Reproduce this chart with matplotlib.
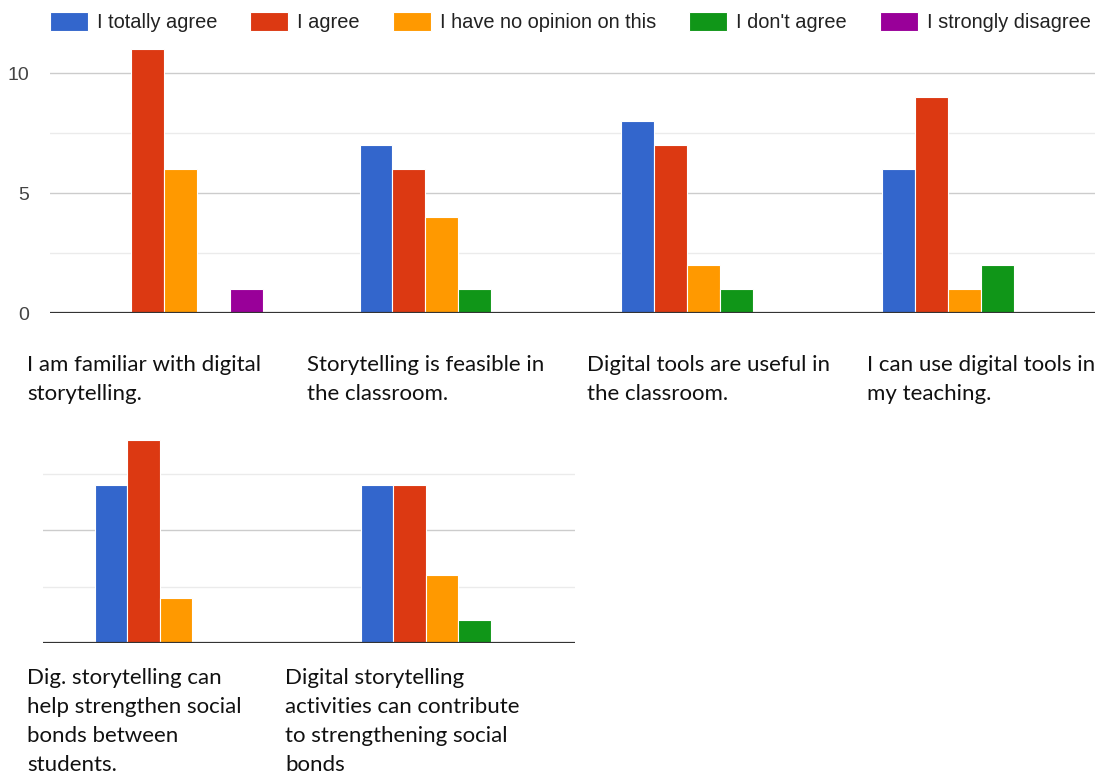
import matplotlib.pyplot as plt
import numpy as np

W, H = 1095, 776
DPI = 100

SERIES = ["I totally agree", "I agree", "I have no opinion on this",
          "I don't agree", "I strongly disagree"]
COLORS = ["#3366cc", "#dc3912", "#ff9900", "#109618", "#990099"]

TOP_LABELS = [
    "I am familiar with digital\nstorytelling.",
    "Storytelling is feasible in\nthe classroom.",
    "Digital tools are useful in\nthe classroom.",
    "I can use digital tools in\nmy teaching.",
]
# counts per statement, one row per answer option
TOP_TOTALLY = [0, 7, 8, 6]
TOP_AGREE = [11, 6, 7, 9]
TOP_NO_OPINION = [6, 4, 2, 1]
TOP_DISAGREE = [0, 1, 1, 2]
TOP_STRONGLY = [1, 0, 0, 0]

BOTTOM_LABELS = [
    "Dig. storytelling can\nhelp strengthen social\nbonds between\nstudents.",
    "Digital storytelling\nactivities can contribute\nto strengthening social\nbonds",
]
BOTTOM_TOTALLY = [7, 7]
BOTTOM_AGREE = [9, 7]
BOTTOM_NO_OPINION = [2, 3]
BOTTOM_DISAGREE = [0, 1]
BOTTOM_STRONGLY = [0, 0]

LABEL_FONT = ["Lato", "DejaVu Sans"]
AXIS_FONT = ["Liberation Sans", "DejaVu Sans"]


def px_rect(left, bottom, right, top):
    """Axes rect in figure fractions from pixel edges (y measured from top)."""
    return [left / W, 1 - bottom / H, (right - left) / W, (bottom - top) / H]


def draw_group_bars(ax, rows, bar_w):
    x = np.arange(len(rows[0]))
    handles = []
    for i, (vals, color) in enumerate(zip(rows, COLORS)):
        offs = (i - 2) * bar_w
        bars = ax.bar(x + offs, vals, bar_w, color=color, edgecolor="white",
                      linewidth=0.8, zorder=3)
        handles.append(bars)
    ax.set_xlim(-0.5, len(x) - 0.5)
    return handles


def style_axis(ax, ymax, show_labels):
    ax.set_ylim(0, ymax)
    for y in np.arange(2.5, ymax, 2.5):
        major = abs(y % 5) < 1e-9
        ax.axhline(y, color="#cccccc" if major else "#ebebeb",
                   linewidth=1.0, zorder=1)
    ax.axhline(0, color="#333333", linewidth=1.6, zorder=4)
    for s in ax.spines.values():
        s.set_visible(False)
    ax.set_xticks([])
    if show_labels:
        ax.set_yticks([0, 5, 10])
        ax.tick_params(axis="y", length=0, pad=15, labelsize=14,
                       labelcolor="#444444")
        for t in ax.get_yticklabels():
            t.set_family(AXIS_FONT)
    else:
        ax.set_yticks([])


def put_label(fig, text, x_px, base_px, step=29):
    for k, line in enumerate(text.split("\n")):
        fig.text(x_px / W, 1 - (base_px + k * step) / H, line,
                 family=LABEL_FONT, fontsize=16, color="#111111",
                 ha="left", va="baseline")


def main() -> None:
    fig = plt.figure(figsize=(W / DPI, H / DPI), dpi=DPI)

    ax_top = fig.add_axes(px_rect(50, 313, 1095, 42))
    handles = draw_group_bars(
        ax_top, [TOP_TOTALLY, TOP_AGREE, TOP_NO_OPINION, TOP_DISAGREE,
                 TOP_STRONGLY], 0.126)
    style_axis(ax_top, 11.3, True)

    ax_bot = fig.add_axes(px_rect(43, 643, 575, 421))
    draw_group_bars(
        ax_bot, [BOTTOM_TOTALLY, BOTTOM_AGREE, BOTTOM_NO_OPINION,
                 BOTTOM_DISAGREE, BOTTOM_STRONGLY], 0.122)
    style_axis(ax_bot, 9.85, False)

    fig.legend(handles, SERIES, loc="center left",
               bbox_to_anchor=(50 / W, 1 - 22 / H), ncol=5, frameon=False,
               prop={"family": AXIS_FONT, "size": 14.4},
               handlelength=1.9, handleheight=1.1, handletextpad=0.45,
               columnspacing=1.65, borderpad=0, borderaxespad=0)
    for t in fig.legends[0].get_texts():
        t.set_color("#222222")

    for text, x in zip(TOP_LABELS, [27, 307, 587, 867]):
        put_label(fig, text, x, 371)
    for text, x in zip(BOTTOM_LABELS, [27, 285]):
        put_label(fig, text, x, 684)

    fig.savefig("out.png", dpi=DPI)
    plt.close(fig)


if __name__ == "__main__":
    main()
